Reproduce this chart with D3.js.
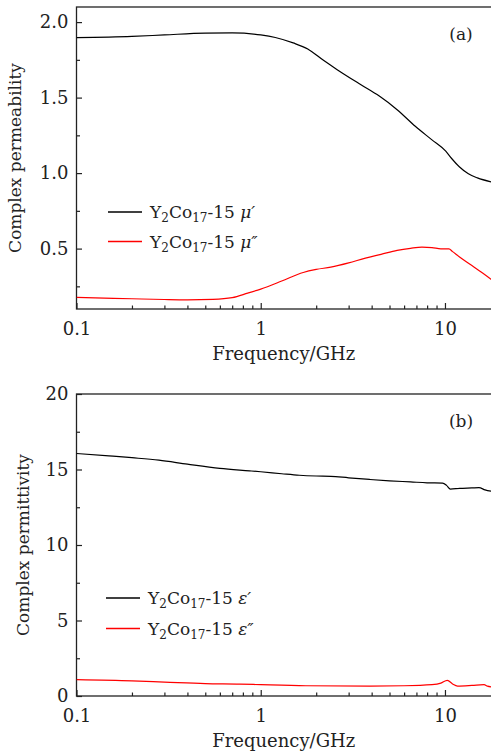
<!DOCTYPE html>
<html>
<head>
<meta charset="utf-8">
<script src="https://cdn.jsdelivr.net/npm/d3@7"></script>
<style>
  body { margin: 0; background: #fff; }
  svg text { font-family: "DejaVu Serif", serif; fill: #222; }
</style>
</head>
<body>
<div id="chart"></div>
<script>
// panel (a): complex permeability
const freqMuReal = [0.1, 0.2, 0.3, 0.5, 0.7, 1.0, 1.2, 1.5, 1.8, 2.2, 2.6, 3.5, 4.4, 5.5, 6.9, 8.5, 10.1, 10.9, 12, 13.4, 15, 18];
const muReal     = [1.897, 1.905, 1.915, 1.927, 1.928, 1.915, 1.898, 1.862, 1.822, 1.745, 1.685, 1.585, 1.510, 1.42, 1.31, 1.22, 1.145, 1.095, 1.04, 0.995, 0.968, 0.94];
const freqMuImag = [0.1, 0.2, 0.3, 0.4, 0.55, 0.7, 0.85, 1.0, 1.3, 1.7, 2.0, 2.4, 3.0, 3.7, 4.5, 5.5, 6.5, 7.5, 8.5, 9.5, 10.5, 11, 12, 14, 16, 18];
const muImag     = [0.177, 0.168, 0.163, 0.161, 0.164, 0.175, 0.205, 0.232, 0.285, 0.342, 0.362, 0.377, 0.405, 0.437, 0.462, 0.488, 0.502, 0.51, 0.507, 0.498, 0.498, 0.48, 0.445, 0.388, 0.338, 0.292];

// panel (b): complex permittivity
const freqEpsReal = [0.1, 0.15, 0.2, 0.28, 0.4, 0.6, 0.87, 1.0, 1.3, 1.62, 2.0, 2.4, 3.0, 3.9, 5.0, 6.5, 8, 9.7, 10.2, 10.7, 12, 14, 15.3, 16.5, 18];
const epsReal     = [16.06, 15.9, 15.78, 15.62, 15.35, 15.07, 14.91, 14.85, 14.72, 14.62, 14.57, 14.55, 14.45, 14.34, 14.25, 14.18, 14.12, 14.1, 13.95, 13.7, 13.75, 13.78, 13.8, 13.65, 13.55];
const freqEpsImag = [0.1, 0.2, 0.3, 0.5, 0.77, 1.0, 1.76, 3.9, 6, 8.5, 9.5, 10.3, 11, 11.7, 14, 16.3, 17, 18];
const epsImag     = [1.08, 1.0, 0.92, 0.82, 0.79, 0.75, 0.68, 0.66, 0.68, 0.75, 0.85, 1.04, 0.8, 0.66, 0.7, 0.75, 0.65, 0.6];

const xDomain = [0.1, 18];
const xTickValues = [0.1, 1, 10];

const W = 491, H = 752;
const svg = d3.select("#chart").append("svg")
    .attr("width", W)
    .attr("height", H);

function zip(xs, ys) { return xs.map((x, i) => [x, ys[i]]); }

function drawPanel(cfg) {
    const left = 76.5, right = 492;
    const xScale = d3.scaleLog().domain(xDomain).range([left, right]);
    const yScale = d3.scaleLinear().domain(cfg.yDomain).range([cfg.bottom, cfg.top]);

    const g = svg.append("g");

    // minor x ticks (2..9 per decade)
    const minor = [];
    [0.1, 1, 10].forEach(d => { for (let k = 2; k <= 9; k++) if (d * k <= xDomain[1]) minor.push(d * k); });

    g.append("g")
        .attr("transform", `translate(0, ${cfg.bottom})`)
        .call(d3.axisBottom(xScale).tickValues(minor).tickSize(-3.5).tickFormat(""))
        .call(a => a.select(".domain").remove());

    g.append("g")
        .attr("transform", `translate(0, ${cfg.bottom})`)
        .call(d3.axisBottom(xScale).tickValues(xTickValues).tickSize(-6).tickPadding(13)
            .tickFormat(d => d3.format("")(d)))
        .call(a => a.select(".domain").remove());

    // y ticks
    g.append("g")
        .attr("transform", `translate(${left}, 0)`)
        .call(d3.axisLeft(yScale).tickValues(cfg.yMinor).tickSize(-3.5).tickFormat(""))
        .call(a => a.select(".domain").remove());

    g.append("g")
        .attr("transform", `translate(${left}, 0)`)
        .call(d3.axisLeft(yScale).tickValues(cfg.yTicks).tickSize(-5.5).tickPadding(8)
            .tickFormat(d3.format(cfg.yFormat)))
        .call(a => a.select(".domain").remove());

    g.selectAll(".tick line")
        .style("stroke", "#222")
        .style("stroke-width", 1.2);

    g.selectAll(".tick text")
        .style("font-size", "18px")
        .style("font-family", "'DejaVu Serif', serif")
        .style("fill", "#222");

    // frame
    g.append("rect")
        .attr("x", left)
        .attr("y", cfg.top)
        .attr("width", right - left)
        .attr("height", cfg.bottom - cfg.top)
        .style("fill", "none")
        .style("stroke", "#222")
        .style("stroke-width", 1.3);

    const line = d3.line()
        .x(d => xScale(d[0]))
        .y(d => yScale(d[1]))
        .curve(d3.curveMonotoneX);

    const clipId = "clip" + cfg.name;
    g.append("clipPath").attr("id", clipId)
        .append("rect")
        .attr("x", left).attr("y", cfg.top)
        .attr("width", right - left).attr("height", cfg.bottom - cfg.top);

    cfg.series.forEach(s => {
        g.append("path")
            .datum(zip(s.x, s.y))
            .attr("clip-path", `url(#${clipId})`)
            .attr("d", line)
            .style("fill", "none")
            .style("stroke", s.color)
            .style("stroke-width", 1.2);
    });

    // axis titles
    g.append("text")
        .attr("x", (left + 491) / 2)
        .attr("y", cfg.bottom + 51)
        .style("text-anchor", "middle")
        .style("font-size", "18px")
        .text("Frequency/GHz");

    g.append("text")
        .attr("transform", `translate(${cfg.yLabelX}, ${(cfg.top + cfg.bottom) / 2}) rotate(-90)`)
        .style("text-anchor", "middle")
        .style("font-size", "17px")
        .text(cfg.yLabel);

    // panel tag
    g.append("text")
        .attr("x", 461)
        .attr("y", cfg.top + 33)
        .style("text-anchor", "middle")
        .style("font-size", "17px")
        .text(cfg.tag);

    // legend
    let ly = cfg.legendY;
    cfg.series.forEach(s => {
        g.append("line")
            .attr("x1", cfg.legendX)
            .attr("x2", cfg.legendX + 34)
            .attr("y1", ly)
            .attr("y2", ly)
            .style("stroke", s.color)
            .style("stroke-width", 1.4);

        const t = g.append("text")
            .attr("x", cfg.legendX + 42)
            .attr("y", ly + 6)
            .style("font-size", "17px");
        t.append("tspan").text("Y");
        t.append("tspan").attr("dy", 4).style("font-size", "12px").text("2");
        t.append("tspan").attr("dy", -4).text("Co");
        t.append("tspan").attr("dy", 4).style("font-size", "12px").text("17");
        t.append("tspan").attr("dy", -4).text("-15 ");
        t.append("tspan").style("font-style", "italic").text(s.symbol);

        ly += cfg.legendStep;
    });
}

drawPanel({
    name: "a",
    top: 7, bottom: 309,
    yDomain: [0.1, 2.1],
    yTicks: [0.5, 1.0, 1.5, 2.0],
    yMinor: [0.25, 0.75, 1.25, 1.75],
    yFormat: ".1f",
    yLabel: "Complex permeability",
    yLabelX: 21,
    tag: "(a)",
    legendX: 108, legendY: 212, legendStep: 29.5,
    series: [
        { x: freqMuReal, y: muReal, color: "#000", symbol: "μ′" },
        { x: freqMuImag, y: muImag, color: "#ff0000", symbol: "μ″" }
    ]
});

drawPanel({
    name: "b",
    top: 394, bottom: 696,
    yDomain: [0, 20],
    yTicks: [0, 5, 10, 15, 20],
    yMinor: [2.5, 7.5, 12.5, 17.5],
    yFormat: "d",
    yLabel: "Complex permittivity",
    yLabelX: 29,
    tag: "(b)",
    legendX: 106, legendY: 598, legendStep: 30.5,
    series: [
        { x: freqEpsReal, y: epsReal, color: "#000", symbol: "ε′" },
        { x: freqEpsImag, y: epsImag, color: "#ff0000", symbol: "ε″" }
    ]
});
</script>
</body>
</html>
